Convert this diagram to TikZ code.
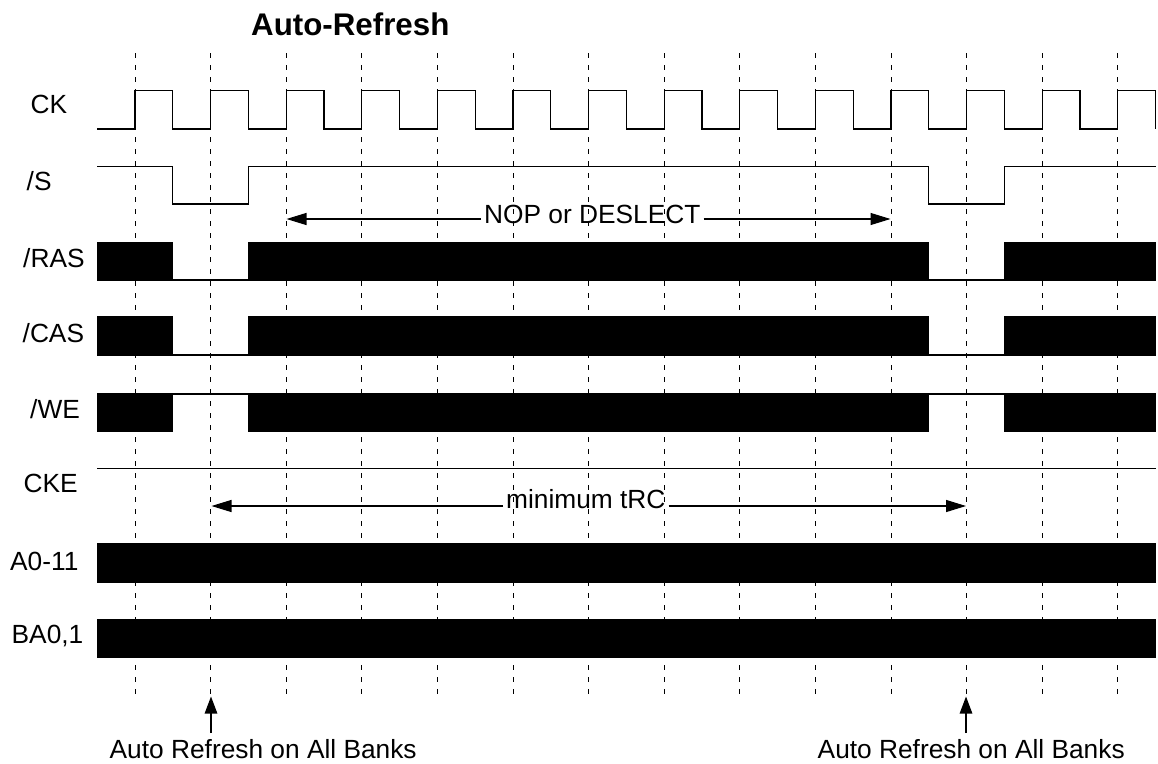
\documentclass[tikz,border=0pt]{standalone}
\usepackage{fontspec}
\setmainfont{Liberation Sans}
\usetikzlibrary{arrows.meta}
\begin{document}
\begin{tikzpicture}[x=1pt,y=-1pt,
  sig/.style={line width=1.3pt,line join=miter},
  grid/.style={line width=1pt,dash pattern=on 5pt off 7pt},
  bus/.style={fill=black},
  harrow/.style={line width=1.2pt,-{Triangle[length=20pt,width=12pt]}},
  varrow/.style={line width=1.2pt,-{Triangle[length=17pt,width=12.5pt]}},
  lbl/.style={anchor=base west,inner sep=0pt,font=\fontsize{26.3}{30}\selectfont},
  alabel/.style={anchor=base west,inner xsep=3pt,inner ysep=0pt,font=\fontsize{26.3}{30}\selectfont}]
\useasboundingbox (0,0) rectangle (1158,763);
\fill[white] (0,0) rectangle (1158,763);
% grid
\foreach \k in {0,...,13} \draw[grid] ({135+\k*75.6},53) -- ({135+\k*75.6},695);
% title
\node[anchor=base west,inner sep=0pt,font=\fontsize{31.3}{36}\selectfont\bfseries] (title) at (251,35) {Auto-Refresh};
% labels
\node[lbl] (lck) at (30.5,113.3) {CK};
\node[lbl] (ls) at (26.5,190) {/S};
\node[lbl] (lras) at (23,267) {/RAS};
\node[lbl] (lcas) at (22.5,342) {/CAS};
\node[lbl] (lwe) at (30,418) {/WE};
\node[lbl] (lcke) at (23.5,492) {CKE};
\node[lbl] (la) at (10,570) {A0-11};
\node[lbl] (lba) at (11.5,643.3) {BA0,1};
% clock
\draw[sig] (97.2,129) \foreach \k in {0,...,13} { -- ({135+\k*75.6},129) -- ({135+\k*75.6},90.7) -- ({172.8+\k*75.6},90.7) -- ({172.8+\k*75.6},129) };
% /S
\draw[sig] (97.2,166.7) -- (172.8,166.7) -- (172.8,204) -- (248.4,204) -- (248.4,166.7) -- (928.8,166.7) -- (928.8,204) -- (1004.4,204) -- (1004.4,166.7) -- (1155.6,166.7);
% /RAS
\fill[bus] (97.2,241.7) rectangle (172.8,280.7);
\draw[sig] (172.8,280) -- (248.4,280);
\fill[bus] (248.4,241.7) rectangle (928.8,280.7);
\draw[sig] (928.8,280) -- (1004.4,280);
\fill[bus] (1004.4,241.7) rectangle (1155.6,280.7);
% /CAS
\fill[bus] (97.2,316) rectangle (172.8,356);
\draw[sig] (172.8,355) -- (248.4,355);
\fill[bus] (248.4,316) rectangle (928.8,356);
\draw[sig] (928.8,355) -- (1004.4,355);
\fill[bus] (1004.4,316) rectangle (1155.6,356);
% /WE
\fill[bus] (97.2,393.3) rectangle (172.8,431.7);
\draw[sig] (172.8,394) -- (248.4,394);
\fill[bus] (248.4,393.3) rectangle (928.8,431.7);
\draw[sig] (928.8,394) -- (1004.4,394);
\fill[bus] (1004.4,393.3) rectangle (1155.6,431.7);
% CKE
\draw[sig] (97.2,468.7) -- (1155.6,468.7);
% A0-11, BA0,1
\fill[bus] (97.2,543.3) rectangle (1155.6,582.7);
\fill[bus] (97.2,619.3) rectangle (1155.6,658.3);
% NOP arrow
\node[alabel] (nop) at (481,223.3) {NOP or DESLECT};
\coordinate (nopL) at (286.5,219);
\coordinate (nopR) at (890.5,219);
\draw[harrow] (nop.west |- nopL) -- (nopL);
\draw[harrow] (nop.east |- nopR) -- (nopR);
% tRC arrow
\node[alabel] (trc) at (503,508) {minimum tRC};
\coordinate (trcL) at (211.5,506);
\coordinate (trcR) at (966,506);
\draw[harrow] (trc.west |- trcL) -- (trcL);
\draw[harrow] (trc.east |- trcR) -- (trcR);
% bottom annotations
\node[lbl] (ar1) at (109.5,758) {Auto Refresh on All Banks};
\node[lbl] (ar2) at (817.5,758) {Auto Refresh on All Banks};
\coordinate (ar1b) at (211,733);
\coordinate (ar1t) at (211,696.5);
\coordinate (ar2b) at (966,733);
\coordinate (ar2t) at (966,696.5);
\draw[varrow] (ar1b) -- (ar1t);
\draw[varrow] (ar2b) -- (ar2t);
\end{tikzpicture}
\end{document}
